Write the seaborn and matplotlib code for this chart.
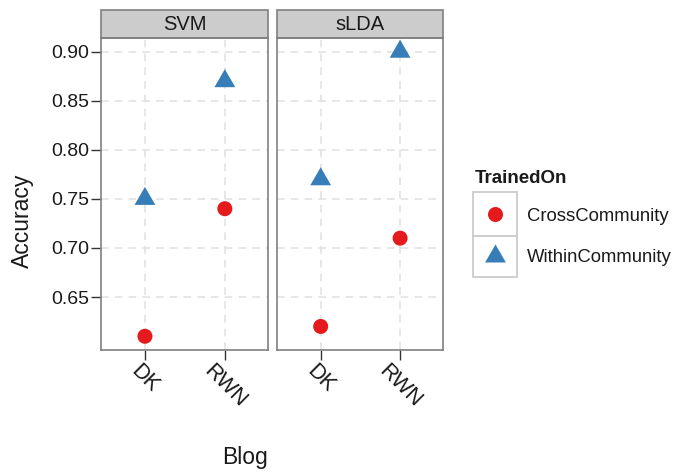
import matplotlib
matplotlib.use("Agg")
import matplotlib.pyplot as plt
from matplotlib.patches import Rectangle
from matplotlib.lines import Line2D
import seaborn as sns
import pandas as pd

# values
methods = ["SVM", "SVM", "SVM", "SVM", "sLDA", "sLDA", "sLDA", "sLDA"]
blogs = ["DK", "DK", "RWN", "RWN", "DK", "DK", "RWN", "RWN"]
trained_on = ["CrossCommunity", "WithinCommunity"] * 4
accuracy = [0.61, 0.75, 0.74, 0.87, 0.62, 0.77, 0.71, 0.90]

y_ticks = [0.65, 0.70, 0.75, 0.80, 0.85, 0.90]
panels = ["SVM", "sLDA"]
groups = ["CrossCommunity", "WithinCommunity"]
colors = {"CrossCommunity": "#E41A1C", "WithinCommunity": "#377EB8"}

df = pd.DataFrame({"Method": methods, "Blog": blogs,
                   "TrainedOn": trained_on, "Accuracy": accuracy})

sns.set_theme(style="white")
plt.rcParams["font.family"] = ["Liberation Sans", "DejaVu Sans"]

W, H = 678, 472
fig = plt.figure(figsize=(W / 100, H / 100), dpi=100)

# equilateral triangle like ggplot shape 17
tri = [(-1, -0.577), (1, -0.577), (0, 1.155)]
markers = {"CrossCommunity": "o", "WithinCommunity": tri}
sizes = {"CrossCommunity": 117, "WithinCommunity": 300}

def px(x0, y0, x1, y1):
    # pixel box (top-left origin) -> figure fraction rect
    return [x0 / W, 1 - y1 / H, (x1 - x0) / W, (y1 - y0) / H]

boxes = [(101, 38, 268, 350), (277, 38, 443, 350)]
strip_h = 28 / 312

for i, name in enumerate(panels):
    ax = fig.add_axes(px(*boxes[i]))
    sub = df[df["Method"] == name]
    sns.scatterplot(data=sub, x="Blog", y="Accuracy", hue="TrainedOn",
                    style="TrainedOn", size="TrainedOn",
                    hue_order=groups, style_order=groups, size_order=groups,
                    palette=colors, markers=markers, sizes=sizes,
                    linewidth=0, legend=False, ax=ax, zorder=3)
    ax.set_xlim(-0.55, 1.54)
    ax.set_ylim(0.596, 0.914)
    ax.set_xticks([0, 1])
    ax.set_xticklabels(["DK", "RWN"], rotation=-45, ha="center", va="top",
                       fontsize=15.5, color="#1a1a1a")
    ax.set_yticks(y_ticks)
    if i == 0:
        ax.set_yticklabels([f"{v:.2f}" for v in y_ticks], fontsize=14,
                           color="#1a1a1a")
        ax.tick_params(axis="y", length=7, width=1, color="#333333", pad=1.5,
                       left=True)
    else:
        ax.tick_params(axis="y", left=False, labelleft=False)
    ax.tick_params(axis="x", length=7, width=1, color="#333333", pad=1,
                   bottom=True)
    ax.set_xlabel("")
    ax.set_ylabel("")
    ax.set_axisbelow(True)
    ax.grid(True, color="#e0e0e0", linestyle=(0, (5, 4)), linewidth=1.1)
    for sp in ax.spines.values():
        sp.set_color("#808080")
        sp.set_linewidth(1.2)
    ax.add_patch(Rectangle((0, 1), 1, strip_h, transform=ax.transAxes,
                           clip_on=False, facecolor="#cccccc",
                           edgecolor="#808080", linewidth=1.2))
    ax.text(0.5, 1 + strip_h / 2, name, transform=ax.transAxes,
            ha="center", va="center", fontsize=14.5, color="#1a1a1a")

fig.text(22 / W, 1 - 221 / H, "Accuracy", rotation=90, ha="center",
         va="center", fontsize=16.5, color="#1a1a1a")
fig.text(245 / W, 1 - 464 / H, "Blog", ha="center", va="baseline",
         fontsize=16.5, color="#1a1a1a")

# legend drawn by hand to get the boxed keys
fig.text(475 / W, 1 - 183 / H, "TrainedOn", ha="left", va="baseline",
         fontsize=13.5, fontweight="bold", color="#1a1a1a")
key_rows = [(192, 236, 214, 221), (236, 277, 256, 262)]
for g, (y0, y1, yc, yb) in zip(groups, key_rows):
    fig.add_artist(Rectangle((473 / W, 1 - y1 / H), 44 / W, (y1 - y0) / H,
                             transform=fig.transFigure, facecolor="white",
                             edgecolor="#cccccc", linewidth=1.3))
    ms = 10.8 if g == "CrossCommunity" else 17.3
    fig.add_artist(Line2D([495 / W], [1 - yc / H], transform=fig.transFigure,
                          marker=markers[g], markersize=ms, linestyle="none",
                          markerfacecolor=colors[g], markeredgewidth=0))
    fig.text(527 / W, 1 - yb / H, g, ha="left", va="baseline",
             fontsize=13.3, color="#1a1a1a")

fig.savefig("out.png", dpi=100, facecolor="white")
